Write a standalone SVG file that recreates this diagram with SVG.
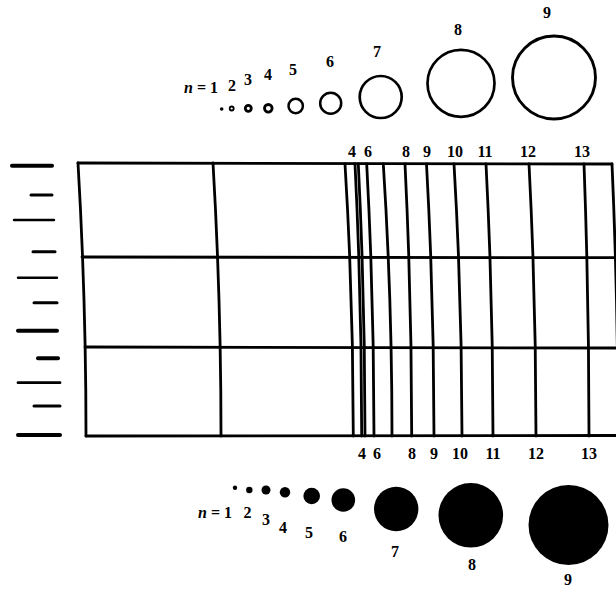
<svg xmlns="http://www.w3.org/2000/svg" width="616" height="590" viewBox="0 0 616 590">
<style>
.t{font-family:"Liberation Serif","Times New Roman",serif;font-size:16px;font-weight:bold;fill:#000;text-anchor:middle}
.n{font-style:italic}
.g{fill:none;stroke:#000;stroke-width:2.8;stroke-linecap:round}
.tk{stroke:#000;stroke-linecap:round}
.ring{fill:none;stroke:#000}
</style>
<rect width="616" height="590" fill="#fff"/>
<g id="top-circles">
<circle cx="221.7" cy="109" r="1.8" fill="#000"/>
<circle class="ring" cx="231.7" cy="108.5" r="2" stroke-width="1.8"/>
<circle class="ring" cx="248.3" cy="108.3" r="3" stroke-width="2.8"/>
<circle class="ring" cx="268.3" cy="108.3" r="3.8" stroke-width="2.8"/>
<circle class="ring" cx="295.7" cy="106" r="7.2" stroke-width="2.5"/>
<circle class="ring" cx="330.7" cy="103.3" r="10.5" stroke-width="2.5"/>
<circle class="ring" cx="380.7" cy="97" r="21" stroke-width="2.7"/>
<circle class="ring" cx="461" cy="83.3" r="33.5" stroke-width="2.7"/>
<circle class="ring" cx="554" cy="77.5" r="41.5" stroke-width="2.9"/>
</g>
<g id="top-labels">
<text class="t" x="201" y="93"><tspan class="n">n</tspan> = 1</text>
<text class="t" x="232" y="91">2</text>
<text class="t" x="248" y="85">3</text>
<text class="t" x="268" y="80">4</text>
<text class="t" x="293" y="75">5</text>
<text class="t" x="330" y="67">6</text>
<text class="t" x="377" y="57">7</text>
<text class="t" x="458" y="35">8</text>
<text class="t" x="547" y="18">9</text>
</g>
<g id="ticks">
<line class="tk" x1="12" y1="165.7" x2="52" y2="165.7" stroke-width="4"/>
<line class="tk" x1="31" y1="195" x2="52" y2="195" stroke-width="3"/>
<line class="tk" x1="14" y1="220" x2="54" y2="220" stroke-width="2.4"/>
<line class="tk" x1="33" y1="251.7" x2="55" y2="251.7" stroke-width="3"/>
<line class="tk" x1="18" y1="277.7" x2="57" y2="277.7" stroke-width="2.4"/>
<line class="tk" x1="34" y1="302.7" x2="57" y2="302.7" stroke-width="3"/>
<line class="tk" x1="18" y1="330.7" x2="57" y2="330.7" stroke-width="4"/>
<line class="tk" x1="38" y1="358.3" x2="58" y2="358.3" stroke-width="4"/>
<line class="tk" x1="18" y1="382.7" x2="60" y2="382.7" stroke-width="2.8"/>
<line class="tk" x1="34" y1="406" x2="60" y2="406" stroke-width="3"/>
<line class="tk" x1="18" y1="435" x2="60" y2="435" stroke-width="4"/>
</g>
<g id="grid">
<path class="g" d="M78 163 L612 164"/>
<path class="g" d="M82 257 L616 257.7"/>
<path class="g" d="M85 347 L616 348"/>
<path class="g" d="M86 436 L616 435.5"/>
<path class="g" d="M78 163 Q86 300 86 436"/>
<path class="g" d="M612 164 Q618 300 618 436"/>
<path class="g" d="M213 163 Q221 300 221 436"/>
<path class="g" d="M345 164 Q353.3 300 353.3 436"/>
<path class="g" d="M355 164 Q361.7 300 361.7 436"/>
<path class="g" d="M358.3 164 Q365 300 365 436"/>
<path class="g" d="M366.7 164 Q374 300 374 436"/>
<path class="g" d="M383.3 164 Q392 300 392 436"/>
<path class="g" d="M405 164 Q411.7 300 411.7 436"/>
<path class="g" d="M426.5 164 Q434 300 434 436"/>
<path class="g" d="M454 164 Q462 300 462 436"/>
<path class="g" d="M486 164 Q493 300 493 436"/>
<path class="g" d="M529 164 Q536 300 536 436"/>
<path class="g" d="M584 164 Q589 300 589 436"/>
</g>
<g id="grid-labels">
<text class="t" x="352" y="157">4</text>
<text class="t" x="368" y="157">6</text>
<text class="t" x="406" y="157">8</text>
<text class="t" x="427" y="157">9</text>
<text class="t" x="455" y="157">10</text>
<text class="t" x="485" y="157">11</text>
<text class="t" x="528" y="157">12</text>
<text class="t" x="582" y="157">13</text>
<text class="t" x="362" y="459">4</text>
<text class="t" x="377" y="459">6</text>
<text class="t" x="412" y="459">8</text>
<text class="t" x="434" y="459">9</text>
<text class="t" x="460" y="459">10</text>
<text class="t" x="493" y="459">11</text>
<text class="t" x="536" y="459">12</text>
<text class="t" x="589" y="459">13</text>
</g>
<g id="bottom-discs">
<circle cx="235" cy="487.7" r="2.2"/>
<circle cx="249.3" cy="490" r="3.2"/>
<circle cx="266" cy="490" r="4.5"/>
<circle cx="285" cy="492.3" r="5.2"/>
<circle cx="311.7" cy="496" r="8.3"/>
<circle cx="343.3" cy="500" r="11.8"/>
<circle cx="396.2" cy="509" r="22.2"/>
<circle cx="470.8" cy="515.3" r="32.3"/>
<circle cx="568.5" cy="525" r="40"/>
</g>
<g id="bottom-labels">
<text class="t" x="215" y="518"><tspan class="n">n</tspan> = 1</text>
<text class="t" x="247.5" y="518">2</text>
<text class="t" x="266" y="525">3</text>
<text class="t" x="283" y="533">4</text>
<text class="t" x="309" y="538">5</text>
<text class="t" x="343" y="542">6</text>
<text class="t" x="395" y="557">7</text>
<text class="t" x="472" y="570">8</text>
<text class="t" x="568" y="585">9</text>
</g>
</svg>
